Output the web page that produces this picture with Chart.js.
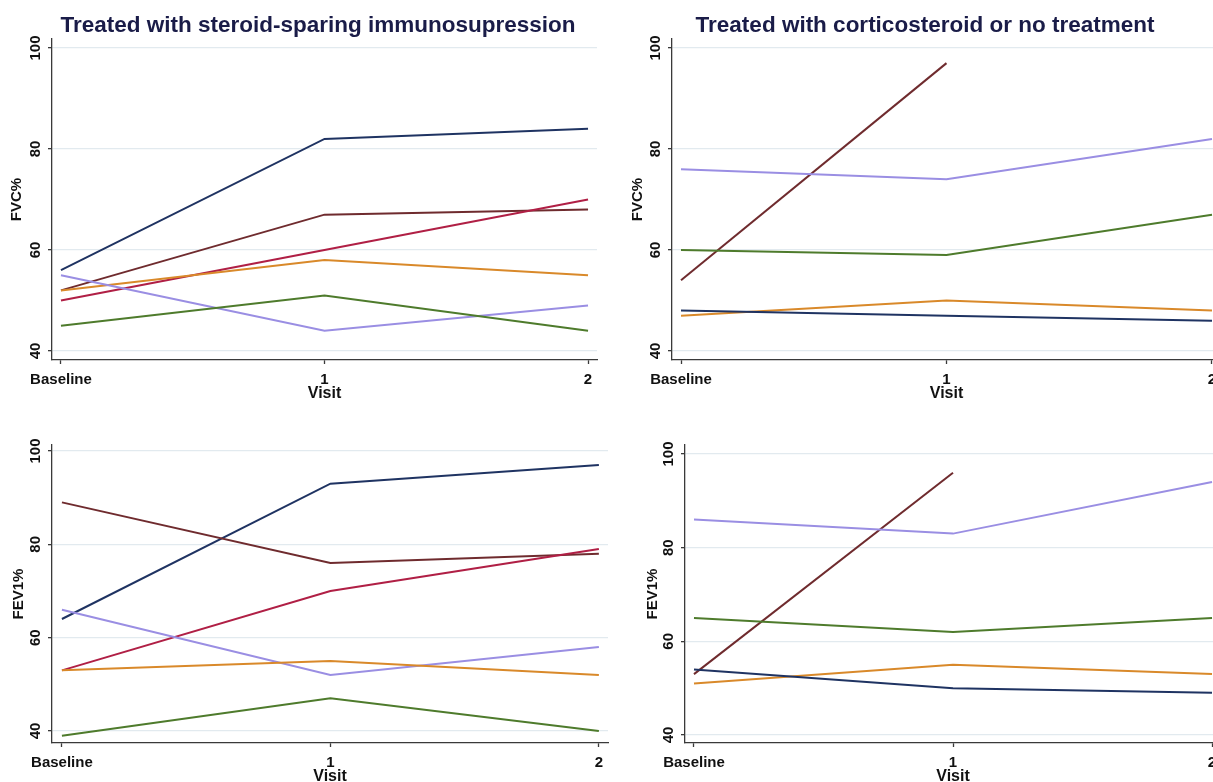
<!DOCTYPE html>
<html>
<head>
<meta charset="utf-8">
<script src="https://cdn.jsdelivr.net/npm/chart.js@4.4.1/dist/chart.umd.min.js"></script>
<style>
  html, body { margin: 0; padding: 0; background: #fff; }
  #wrap { position: relative; width: 1213px; height: 782px; overflow: hidden; background: #fff; }
  #wrap canvas { position: absolute; }
</style>
</head>
<body>
<div id="wrap">
  <canvas id="fvcLeft"></canvas>
  <canvas id="fvcRight"></canvas>
  <canvas id="fevLeft"></canvas>
  <canvas id="fevRight"></canvas>
</div>
<script>
const visitLabels = ['Baseline', '1', '2'];
const visitNums = [0, 1, 2];
const yTickVals = [40, 60, 80, 100];

const titleLeft = 'Treated with steroid-sparing immunosupression';
const titleRight = 'Treated with corticosteroid or no treatment';

// FVC% , steroid-sparing
const fvcSparingNavy = [56, 82, 84];
const fvcSparingMaroon = [52, 67, 68];
const fvcSparingCrimson = [50, 60, 70];
const fvcSparingOrange = [52, 58, 55];
const fvcSparingLavender = [55, 44, 49];
const fvcSparingGreen = [45, 51, 44];

// FVC% , corticosteroid / none
const fvcCortMaroon = [54, 97, null];
const fvcCortLavender = [76, 74, 82];
const fvcCortGreen = [60, 59, 67];
const fvcCortOrange = [47, 50, 48];
const fvcCortNavy = [48, 47, 46];

// FEV1% , steroid-sparing
const fevSparingNavy = [64, 93, 97];
const fevSparingMaroon = [89, 76, 78];
const fevSparingCrimson = [53, 70, 79];
const fevSparingLavender = [66, 52, 58];
const fevSparingOrange = [53, 55, 52];
const fevSparingGreen = [39, 47, 40];

// FEV1% , corticosteroid / none
const fevCortMaroon = [53, 96, null];
const fevCortLavender = [86, 83, 94];
const fevCortGreen = [65, 62, 65];
const fevCortOrange = [51, 55, 53];
const fevCortNavy = [54, 50, 49];

const navy = '#1f3362';
const maroon = '#6f2b2e';
const crimson = '#b01f45';
const orange = '#d9892a';
const lavender = '#9a8ee3';
const green = '#4e7b2c';

const fontFam = "'Liberation Sans', Arial, sans-serif";

function series(vals, color) {
  return {
    data: vals.map((v, i) => ({ x: visitNums[i], y: v })),
    borderColor: color,
    borderWidth: 2,
    pointRadius: 0,
    fill: false,
    tension: 0,
    spanGaps: false
  };
}

// y tick labels are vertical in the original, chart.js can't rotate them on a y axis
const yLabelPlugin = {
  id: 'yLabels',
  afterDraw(chart) {
    const ys = chart.scales.y;
    const ctx = chart.ctx;
    ctx.save();
    ctx.font = 'bold 15px ' + fontFam;
    ctx.fillStyle = '#111';
    ctx.textAlign = 'center';
    ctx.textBaseline = 'middle';
    ys.ticks.forEach(t => {
      const py = ys.getPixelForValue(t.value);
      ctx.save();
      ctx.translate(ys.right - 16, py);
      ctx.rotate(-Math.PI / 2);
      ctx.fillText(String(t.value), 0, 0);
      ctx.restore();
    });
    ctx.restore();
  }
};

const panelTitlePlugin = {
  id: 'panelTitle',
  afterDraw(chart, args, opts) {
    if (!opts || !opts.text) return;
    const ctx = chart.ctx;
    ctx.save();
    ctx.font = 'bold 22.5px ' + fontFam;
    ctx.fillStyle = '#1a1c48';
    ctx.textAlign = 'center';
    ctx.textBaseline = 'alphabetic';
    ctx.fillText(opts.text, opts.x, opts.y);
    ctx.restore();
  }
};

function drawPanel(p) {
  const cv = document.getElementById(p.id);
  cv.width = p.w;
  cv.height = p.h;
  cv.style.left = p.left + 'px';
  cv.style.top = p.top + 'px';

  return new Chart(cv, {
    type: 'line',
    data: { datasets: p.sets },
    plugins: [yLabelPlugin, panelTitlePlugin],
    options: {
      responsive: false,
      animation: false,
      events: [],
      layout: {
        padding: { left: p.padL, right: p.padR, top: p.padT, bottom: 0 }
      },
      plugins: {
        legend: { display: false },
        tooltip: { enabled: false },
        panelTitle: { text: p.title, x: p.titleX, y: p.titleY }
      },
      scales: {
        x: {
          type: 'linear',
          min: p.xMin,
          max: p.xMax,
          afterBuildTicks: s => { s.ticks = visitNums.map(v => ({ value: v })); },
          afterFit: s => { s.height = 43; },
          border: { display: true, color: '#3a3a3a', width: 1.3 },
          grid: {
            drawOnChartArea: false,
            drawTicks: true,
            tickLength: 4,
            tickColor: '#3a3a3a',
            tickWidth: 1.3
          },
          ticks: {
            autoSkip: false,
            maxRotation: 0,
            padding: 7,
            color: '#111',
            font: { family: fontFam, size: 15, weight: 'bold' },
            callback: v => visitLabels[visitNums.indexOf(v)]
          },
          title: {
            display: true,
            text: 'Visit',
            color: '#111',
            padding: 0,
            font: { family: fontFam, size: 16, weight: 'bold' }
          }
        },
        y: {
          min: p.yMin,
          max: p.yMax,
          afterBuildTicks: s => { s.ticks = yTickVals.map(v => ({ value: v })); },
          afterFit: s => { s.width = p.axisW; },
          border: { display: true, color: '#3a3a3a', width: 1.3 },
          grid: {
            color: '#e2eaef',
            lineWidth: 1.3,
            drawTicks: true,
            tickLength: 4,
            tickColor: '#3a3a3a',
            tickWidth: 1.3
          },
          ticks: { display: false },
          title: {
            display: true,
            text: p.yTitle,
            color: '#111',
            padding: 0,
            font: { family: fontFam, size: 15, weight: 'bold' }
          }
        }
      }
    }
  });
}

drawPanel({
  id: 'fvcLeft', left: 0, top: 0, w: 640, h: 403,
  padL: 8, padR: 43, padT: 39, axisW: 44,
  xMin: -0.034, xMax: 2.034, yMin: 38.22, yMax: 101.78,
  title: titleLeft, titleX: 318, titleY: 32, yTitle: 'FVC%',
  sets: [
    series(fvcSparingGreen, green),
    series(fvcSparingLavender, lavender),
    series(fvcSparingOrange, orange),
    series(fvcSparingCrimson, crimson),
    series(fvcSparingMaroon, maroon),
    series(fvcSparingNavy, navy)
  ]
});

drawPanel({
  id: 'fvcRight', left: 600, top: 0, w: 640, h: 403,
  padL: 29, padR: 19, padT: 39, axisW: 43,
  xMin: -0.0339, xMax: 2.0339, yMin: 38.22, yMax: 101.78,
  title: titleRight, titleX: 325, titleY: 32, yTitle: 'FVC%',
  sets: [
    series(fvcCortNavy, navy),
    series(fvcCortOrange, orange),
    series(fvcCortGreen, green),
    series(fvcCortLavender, lavender),
    series(fvcCortMaroon, maroon)
  ]
});

drawPanel({
  id: 'fevLeft', left: 0, top: 420, w: 640, h: 366,
  padL: 10, padR: 32, padT: 25, axisW: 42,
  xMin: -0.037, xMax: 2.034, yMin: 37.43, yMax: 101.29,
  title: null, yTitle: 'FEV1%',
  sets: [
    series(fevSparingGreen, green),
    series(fevSparingOrange, orange),
    series(fevSparingLavender, lavender),
    series(fevSparingCrimson, crimson),
    series(fevSparingMaroon, maroon),
    series(fevSparingNavy, navy)
  ]
});

drawPanel({
  id: 'fevRight', left: 600, top: 420, w: 640, h: 366,
  padL: 44, padR: 19, padT: 25, axisW: 41,
  xMin: -0.0347, xMax: 2.0347, yMin: 38.29, yMax: 101.92,
  title: null, yTitle: 'FEV1%',
  sets: [
    series(fevCortNavy, navy),
    series(fevCortOrange, orange),
    series(fevCortGreen, green),
    series(fevCortLavender, lavender),
    series(fevCortMaroon, maroon)
  ]
});
</script>
</body>
</html>
